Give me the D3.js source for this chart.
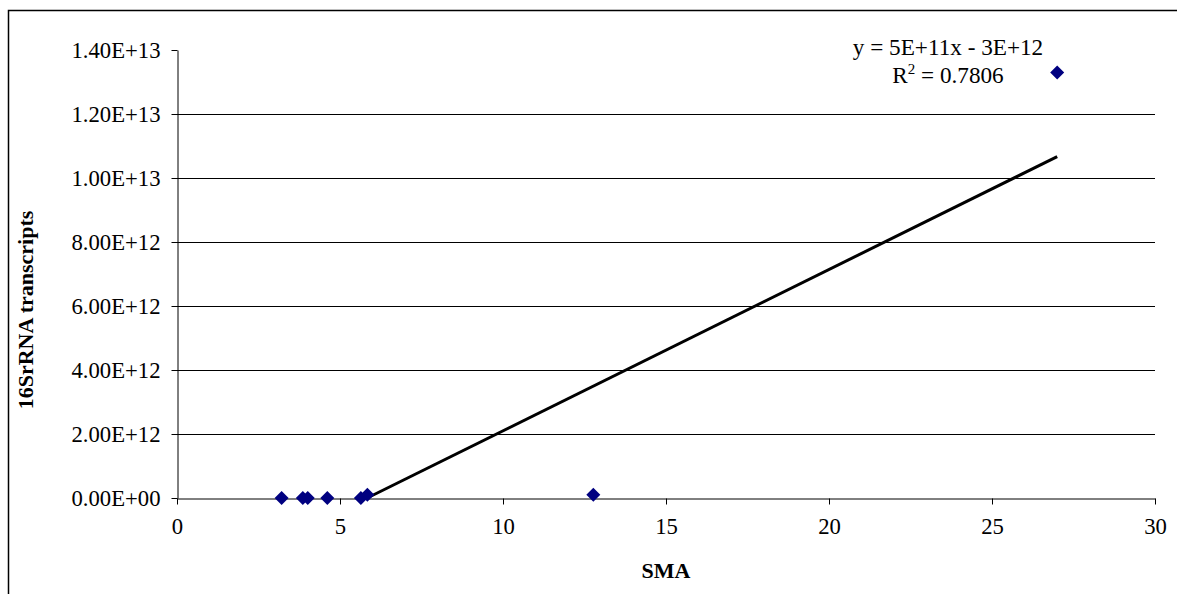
<!DOCTYPE html>
<html><head><meta charset="utf-8">
<script src="https://cdn.jsdelivr.net/npm/d3@7"></script>
<style>body{margin:0;background:#fff}svg{display:block}text{font-family:"Liberation Serif","Times New Roman",serif}</style>
</head><body>
<script>
const smaValues = [3.21, 3.86, 4.01, 4.61, 5.64, 5.84, 12.77, 27.0];
const transcriptValues = [0, 0, 0, 0, 0, 1.0e11, 1.0e11, 1.33e13];
const xTicks = [0, 5, 10, 15, 20, 25, 30];
const yTicks = [0, 2e12, 4e12, 6e12, 8e12, 1e13, 1.2e13, 1.4e13];
const trendSlope = 5.04e11;
const trendIntercept = -2.94e12;
const equationText = "y = 5E+11x - 3E+12";
const r2Value = "0.7806";
const xTitle = "SMA";
const yTitle = "16SrRNA transcripts";

const W = 1177, H = 594, FS = 22, TFS = 22.7;
const svg = d3.select("body").append("svg").attr("width", W).attr("height", H);
svg.append("rect").attr("x", 8.5).attr("y", 10.5).attr("width", W + 10).attr("height", H + 10)
  .attr("fill", "none").attr("stroke", "#000").attr("stroke-width", 1.5);

const x = d3.scaleLinear().domain([0, 30]).range([177, 1155]);
const y = d3.scaleLinear().domain([0, 1.4e13]).range([498, 50]);

svg.append("g").selectAll("line").data(yTicks.filter(t => t > 0 && t < 1.4e13)).join("line")
  .attr("x1", x(0)).attr("x2", x(30))
  .attr("y1", d => Math.round(y(d)) + 0.5).attr("y2", d => Math.round(y(d)) + 0.5)
  .attr("stroke", "#000").attr("stroke-width", 1);

const fmt = d => d === 0 ? "0.00E+00" : (() => {
  const e = Math.floor(Math.log10(d)); const m = d / Math.pow(10, e);
  return m.toFixed(2) + "E+" + String(e).padStart(2, "0");
})();

const yAxis = svg.append("g").attr("transform", "translate(177.5,0)")
  .call(d3.axisLeft(y).tickValues(yTicks).tickFormat(fmt).tickSize(6).tickPadding(11).tickSizeOuter(0));
const xAxis = svg.append("g").attr("transform", "translate(0,498.5)")
  .call(d3.axisBottom(x).tickValues(xTicks).tickFormat(d3.format("d")).tickSize(6).tickPadding(13).tickSizeOuter(0));
[yAxis, xAxis].forEach(a => {
  a.selectAll("path,line").attr("stroke", "#000");
  a.selectAll("text").attr("font-size", TFS).attr("fill", "#000").style("font-family", '"Liberation Serif",serif');
});

const tx0 = -trendIntercept / trendSlope;
const tx1 = d3.max(smaValues);
svg.append("line")
  .attr("x1", x(tx0)).attr("y1", y(trendSlope * tx0 + trendIntercept))
  .attr("x2", x(tx1)).attr("y2", y(trendSlope * tx1 + trendIntercept))
  .attr("stroke", "#000").attr("stroke-width", 3);

svg.append("g").selectAll("path").data(smaValues.map((v, i) => [v, transcriptValues[i]])).join("path")
  .attr("transform", d => `translate(${x(d[0])},${y(d[1])})`)
  .attr("d", "M0,-7L7,0L0,7L-7,0Z").attr("fill", "#000080");

svg.append("text").attr("x", 948).attr("y", 55).attr("text-anchor", "middle").attr("font-size", 23.2).text(equationText);
const r2 = svg.append("text").attr("x", 948).attr("y", 83).attr("text-anchor", "middle").attr("font-size", 23.2);
r2.append("tspan").text("R");
r2.append("tspan").attr("font-size", 15).attr("dy", -9).text("2");
r2.append("tspan").attr("dy", 9).text(" = " + r2Value);

svg.append("text").attr("x", 666).attr("y", 578).attr("text-anchor", "middle").attr("font-size", FS).attr("font-weight", "bold").text(xTitle);
svg.append("text").attr("transform", "translate(33,310) rotate(-90)").attr("text-anchor", "middle").attr("font-size", FS).attr("font-weight", "bold").text(yTitle);
</script>
</body></html>
